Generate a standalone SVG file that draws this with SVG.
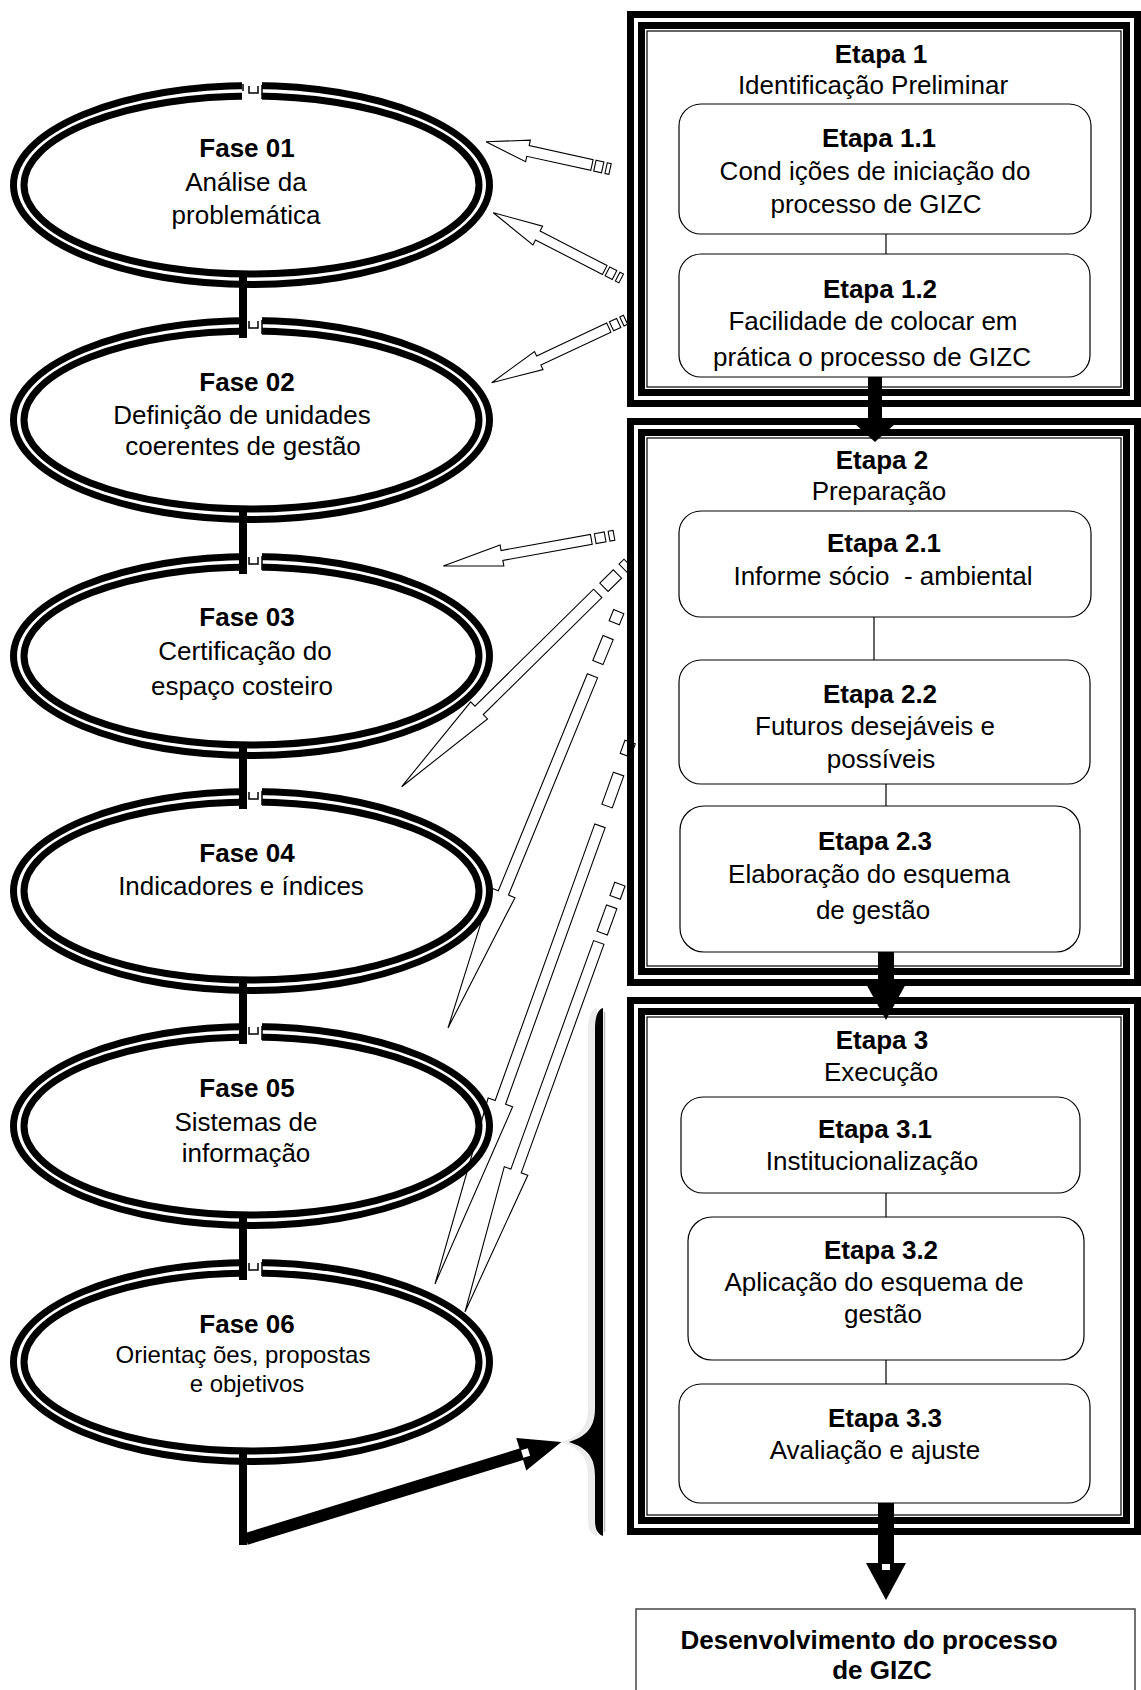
<svg xmlns="http://www.w3.org/2000/svg" width="1141" height="1690" viewBox="0 0 1141 1690">
<style>
.ring{fill:none;stroke:#000;stroke-width:7}
.t{font-family:"Liberation Sans",Arial,sans-serif;font-size:26px;fill:#000;text-anchor:middle}
.b{font-weight:bold}
.s24{font-size:24px}
.box{fill:#fff;stroke:#000;stroke-width:1.2}
.fo{fill:none;stroke:#000;stroke-width:7}
.fi{fill:none;stroke:#000;stroke-width:1.2}
.thin{stroke:#000;stroke-width:1.2}
.hol{fill:none;stroke:#000;stroke-width:1.1;stroke-linejoin:miter}
.blk{fill:#000}
.notch{fill:#fff}
.nl{fill:none;stroke:#000;stroke-width:1.5}
</style>
<rect width="1141" height="1690" fill="#fff"/>

<!-- Fase ellipses -->
<g id="fase01">
<ellipse class="ring" cx="251.5" cy="185" rx="238" ry="99.5"/>
<ellipse class="ring" cx="251.5" cy="185" rx="227.5" ry="89"/>
<rect class="notch" x="242" y="81" width="20" height="21"/>
<path class="nl" d="M243,84 v7 M249,86 v7 h9 v-7 M262,85 v14"/>
<text class="t b" x="247" y="157">Fase 01</text>
<text class="t" x="246" y="191">Análise da</text>
<text class="t" x="246" y="224">problemática</text>
</g>
<g id="fase02">
<ellipse class="ring" cx="251.5" cy="420" rx="238" ry="99.5"/>
<ellipse class="ring" cx="251.5" cy="420" rx="227.5" ry="89"/>
<rect class="notch" x="247" y="316" width="15" height="21"/>
<path class="nl" d="M249,321 v7 h9 v-7 M262,320 v14"/>
<text class="t b" x="247" y="391">Fase 02</text>
<text class="t" x="242" y="424">Definição de unidades</text>
<text class="t" x="243" y="455">coerentes de gestão</text>
</g>
<g id="fase03">
<ellipse class="ring" cx="251.5" cy="656" rx="238" ry="99.5"/>
<ellipse class="ring" cx="251.5" cy="656" rx="227.5" ry="89"/>
<rect class="notch" x="247" y="552" width="15" height="21"/>
<path class="nl" d="M249,557 v7 h9 v-7 M262,556 v14"/>
<text class="t b" x="247" y="626">Fase 03</text>
<text class="t" x="245" y="660">Certificação do</text>
<text class="t" x="242" y="695">espaço costeiro</text>
</g>
<g id="fase04">
<ellipse class="ring" cx="251.5" cy="891" rx="238" ry="99.5"/>
<ellipse class="ring" cx="251.5" cy="891" rx="227.5" ry="89"/>
<rect class="notch" x="247" y="787" width="15" height="21"/>
<path class="nl" d="M249,792 v7 h9 v-7 M262,791 v14"/>
<text class="t b" x="247" y="862">Fase 04</text>
<text class="t" x="241" y="895">Indicadores e índices</text>
</g>
<g id="fase05">
<ellipse class="ring" cx="251.5" cy="1126" rx="238" ry="99.5"/>
<ellipse class="ring" cx="251.5" cy="1126" rx="227.5" ry="89"/>
<rect class="notch" x="247" y="1022" width="15" height="21"/>
<path class="nl" d="M249,1027 v7 h9 v-7 M262,1026 v14"/>
<text class="t b" x="247" y="1097">Fase 05</text>
<text class="t" x="246" y="1131">Sistemas de</text>
<text class="t" x="246" y="1162">informação</text>
</g>
<g id="fase06">
<ellipse class="ring" cx="251.5" cy="1362" rx="238" ry="99.5"/>
<ellipse class="ring" cx="251.5" cy="1362" rx="227.5" ry="89"/>
<rect class="notch" x="247" y="1258" width="15" height="21"/>
<path class="nl" d="M249,1263 v7 h9 v-7 M262,1262 v14"/>
<text class="t b" x="247" y="1333">Fase 06</text>
<text class="t s24" x="243" y="1363">Orientaç ões, propostas</text>
<text class="t s24" x="247" y="1392">e objetivos</text>
</g>

<!-- Etapa frames -->
<g id="etapa1">
<rect class="fo" x="630.5" y="14.5" width="507" height="389"/>
<rect class="fo" x="641.5" y="25.5" width="485" height="367"/>
<rect class="fi" x="647" y="31" width="474" height="356"/>
<text class="t b" x="881" y="63">Etapa 1</text>
<text class="t" x="873" y="94">Identificação Preliminar</text>
</g>
<g id="etapa1-1">
<rect class="box" x="679" y="104" width="412" height="130" rx="22"/>
<text class="t b" x="879" y="147">Etapa 1.1</text>
<text class="t" x="875" y="180">Cond ições de iniciação do</text>
<text class="t" x="876" y="213">processo de GIZC</text>
</g>
<g id="etapa1-2">
<rect class="box" x="679" y="254" width="411" height="123" rx="22"/>
<text class="t b" x="880" y="298">Etapa 1.2</text>
<text class="t" x="873" y="330">Facilidade de colocar em</text>
<text class="t" x="872" y="366">prática o processo de GIZC</text>
</g>

<g id="etapa2">
<rect class="fo" x="630.5" y="421.5" width="507" height="561"/>
<rect class="fo" x="641.5" y="432.5" width="485" height="539"/>
<rect class="fi" x="647" y="438" width="474" height="528"/>
<text class="t b" x="882" y="469">Etapa 2</text>
<text class="t" x="879" y="500">Preparação</text>
</g>
<g id="etapa2-1">
<rect class="box" x="679" y="511" width="412" height="106" rx="22"/>
<text class="t b" x="884" y="552">Etapa 2.1</text>
<text class="t" x="883" y="585">Informe sócio &#160;- ambiental</text>
</g>
<g id="etapa2-2">
<rect class="box" x="679" y="660" width="411" height="124" rx="22"/>
<text class="t b" x="880" y="703">Etapa 2.2</text>
<text class="t" x="875" y="735">Futuros desejáveis e</text>
<text class="t" x="881" y="768">possíveis</text>
</g>
<g id="etapa2-3">
<rect class="box" x="680" y="806" width="400" height="146" rx="24"/>
<text class="t b" x="875" y="850">Etapa 2.3</text>
<text class="t" x="869" y="883">Elaboração do esquema</text>
<text class="t" x="873" y="919">de gestão</text>
</g>

<g id="etapa3">
<rect class="fo" x="630.5" y="1000.5" width="507" height="531"/>
<rect class="fo" x="641.5" y="1011.5" width="485" height="509"/>
<rect class="fi" x="647" y="1017" width="474" height="498"/>
<text class="t b" x="882" y="1049">Etapa 3</text>
<text class="t" x="881" y="1081">Execução</text>
</g>
<g id="etapa3-1">
<rect class="box" x="681" y="1097" width="399" height="96" rx="22"/>
<text class="t b" x="875" y="1138">Etapa 3.1</text>
<text class="t" x="872" y="1170">Institucionalização</text>
</g>
<g id="etapa3-2">
<rect class="box" x="688" y="1217" width="396" height="143" rx="24"/>
<text class="t b" x="881" y="1259">Etapa 3.2</text>
<text class="t" x="874" y="1291">Aplicação do esquema de</text>
<text class="t" x="883" y="1323">gestão</text>
</g>
<g id="etapa3-3">
<rect class="box" x="679" y="1384" width="411" height="119" rx="22"/>
<text class="t b" x="885" y="1427">Etapa 3.3</text>
<text class="t" x="875" y="1459">Avaliação e ajuste</text>
</g>

<g id="resultado">
<rect x="636" y="1609" width="499" height="100" fill="#fff" stroke="#444" stroke-width="1.5"/>
<text class="t b" x="869" y="1649">Desenvolvimento do processo</text>
<text class="t b" x="882" y="1679">de GIZC</text>
</g>

<!-- Connectors -->
<g id="connectors">
<rect class="blk" x="239" y="277" width="8" height="61"/>
<rect class="blk" x="239" y="512" width="8" height="62"/>
<rect class="blk" x="239" y="748" width="8" height="61"/>
<rect class="blk" x="239" y="983" width="8" height="61"/>
<rect class="blk" x="239" y="1218" width="8" height="62"/>
<rect class="blk" x="239" y="1454" width="8" height="91"/>
<g transform="translate(246,1539) rotate(-17.1)">
<path class="blk" d="M0,-6 L288,-6 L288,-17 L330,0 L288,17 L288,6 L0,6 Z"/>
<rect class="notch" x="289" y="-4" width="7" height="8"/>
</g>
<path d="M597,1008 C590,1010 588,1018 588,1030 L588,1408 C588,1426 581,1436 561,1442 C581,1448 588,1458 588,1476 L588,1520 C588,1530 591,1534 597,1536 Z" fill="#ebebeb"/>
<path class="blk" d="M603,1008 C597,1010 595,1018 595,1030 L595,1408 C595,1426 588,1436 569,1442 C588,1448 595,1458 595,1476 L595,1520 C595,1530 598,1534 603,1536 Z"/>
<line x1="604.5" y1="1012" x2="604.5" y2="1532" stroke="#bbb" stroke-width="1.5"/>

<line class="thin" x1="886" y1="234" x2="886" y2="254"/>
<line class="thin" x1="874" y1="617" x2="874" y2="660"/>
<line class="thin" x1="886" y1="784" x2="886" y2="806"/>
<line class="thin" x1="886" y1="1193" x2="886" y2="1217"/>
<line class="thin" x1="886" y1="1360" x2="886" y2="1384"/>

<rect class="blk" x="868" y="377" width="14" height="46"/>
<path class="blk" d="M854,423 L896,423 L875,442 Z"/>
<rect class="blk" x="878" y="952" width="16" height="30"/>
<path class="blk" d="M865,982 L907,982 L886,1020 Z"/>
<rect class="blk" x="878" y="1503" width="16" height="60"/>
<path class="blk" d="M866,1563 L906,1563 L886,1600 Z"/>
<rect class="notch" x="882" y="1564" width="8" height="6"/>

<path class="hol" transform="translate(486,141.7) rotate(12.4)" d="M0,0 L43,-11 L43,-5.5 L108.5,-5.5 L108.5,5.5 L43,5.5 L43,11 Z M111.5,-5.5 h8 v11 h-8 Z M123,-5.5 h4 v11 h-4 Z"/>
<path class="hol" transform="translate(493.3,212.7) rotate(27.2)" d="M0,0 L50,-10.6 L50,-5 L125.3,-5 L125.3,5 L50,5 L50,10.6 Z M128.3,-5 h8 v10 h-8 Z M139.8,-5 h4 v10 h-4 Z"/>
<path class="hol" transform="translate(491.7,382.7) rotate(-25.2)" d="M0,0 L52,-10 L52,-5 L129.4,-5 L129.4,5 L52,5 L52,10 Z M132.4,-5 h8 v10 h-8 Z M143.9,-5 h4 v10 h-4 Z"/>
<path class="hol" transform="translate(443.3,566) rotate(-10.2)" d="M0,0 L59.6,-10.7 L59.6,-5 L150.4,-5 L150.4,5 L59.6,5 L59.6,10.7 Z M154.4,-5 h10 v10 h-10 Z M168.4,-5 h5 v10 h-5 Z"/>
<path class="hol" transform="translate(401.7,786.7) rotate(-44.6)" d="M0,0 L108.7,-12 L108.7,-5.9 L275.3,-5.9 L275.3,5.9 L108.7,5.9 L108.7,12 Z M284,-5.9 h19 v11.8 h-19 Z M311,-5.9 h7 v11.8 h-7 Z"/>
<path class="hol" transform="translate(448,1028) rotate(-67.7)" d="M0,0 L146,-12.5 L146,-5.5 L380.7,-5.5 L380.7,5.5 L146,5.5 L146,12.5 Z M395,-5.5 h27 v11 h-27 Z M438,-5.5 h12 v11 h-12 Z"/>
<path class="hol" transform="translate(435,1284) rotate(-70.2)" d="M0,0 L193,-13 L193,-5.5 L487,-5.5 L487,5.5 L193,5.5 L193,13 Z M508,-5.5 h34 v11 h-34 Z M562,-5.5 h14 v11 h-14 Z"/>
<path class="hol" transform="translate(465,1312) rotate(-70.1)" d="M0,0 L150,-12.5 L150,-5.5 L393,-5.5 L393,5.5 L150,5.5 L150,12.5 Z M403,-5.5 h28 v11 h-28 Z M441,-5.5 h14 v11 h-14 Z"/>
</g>
</svg>
